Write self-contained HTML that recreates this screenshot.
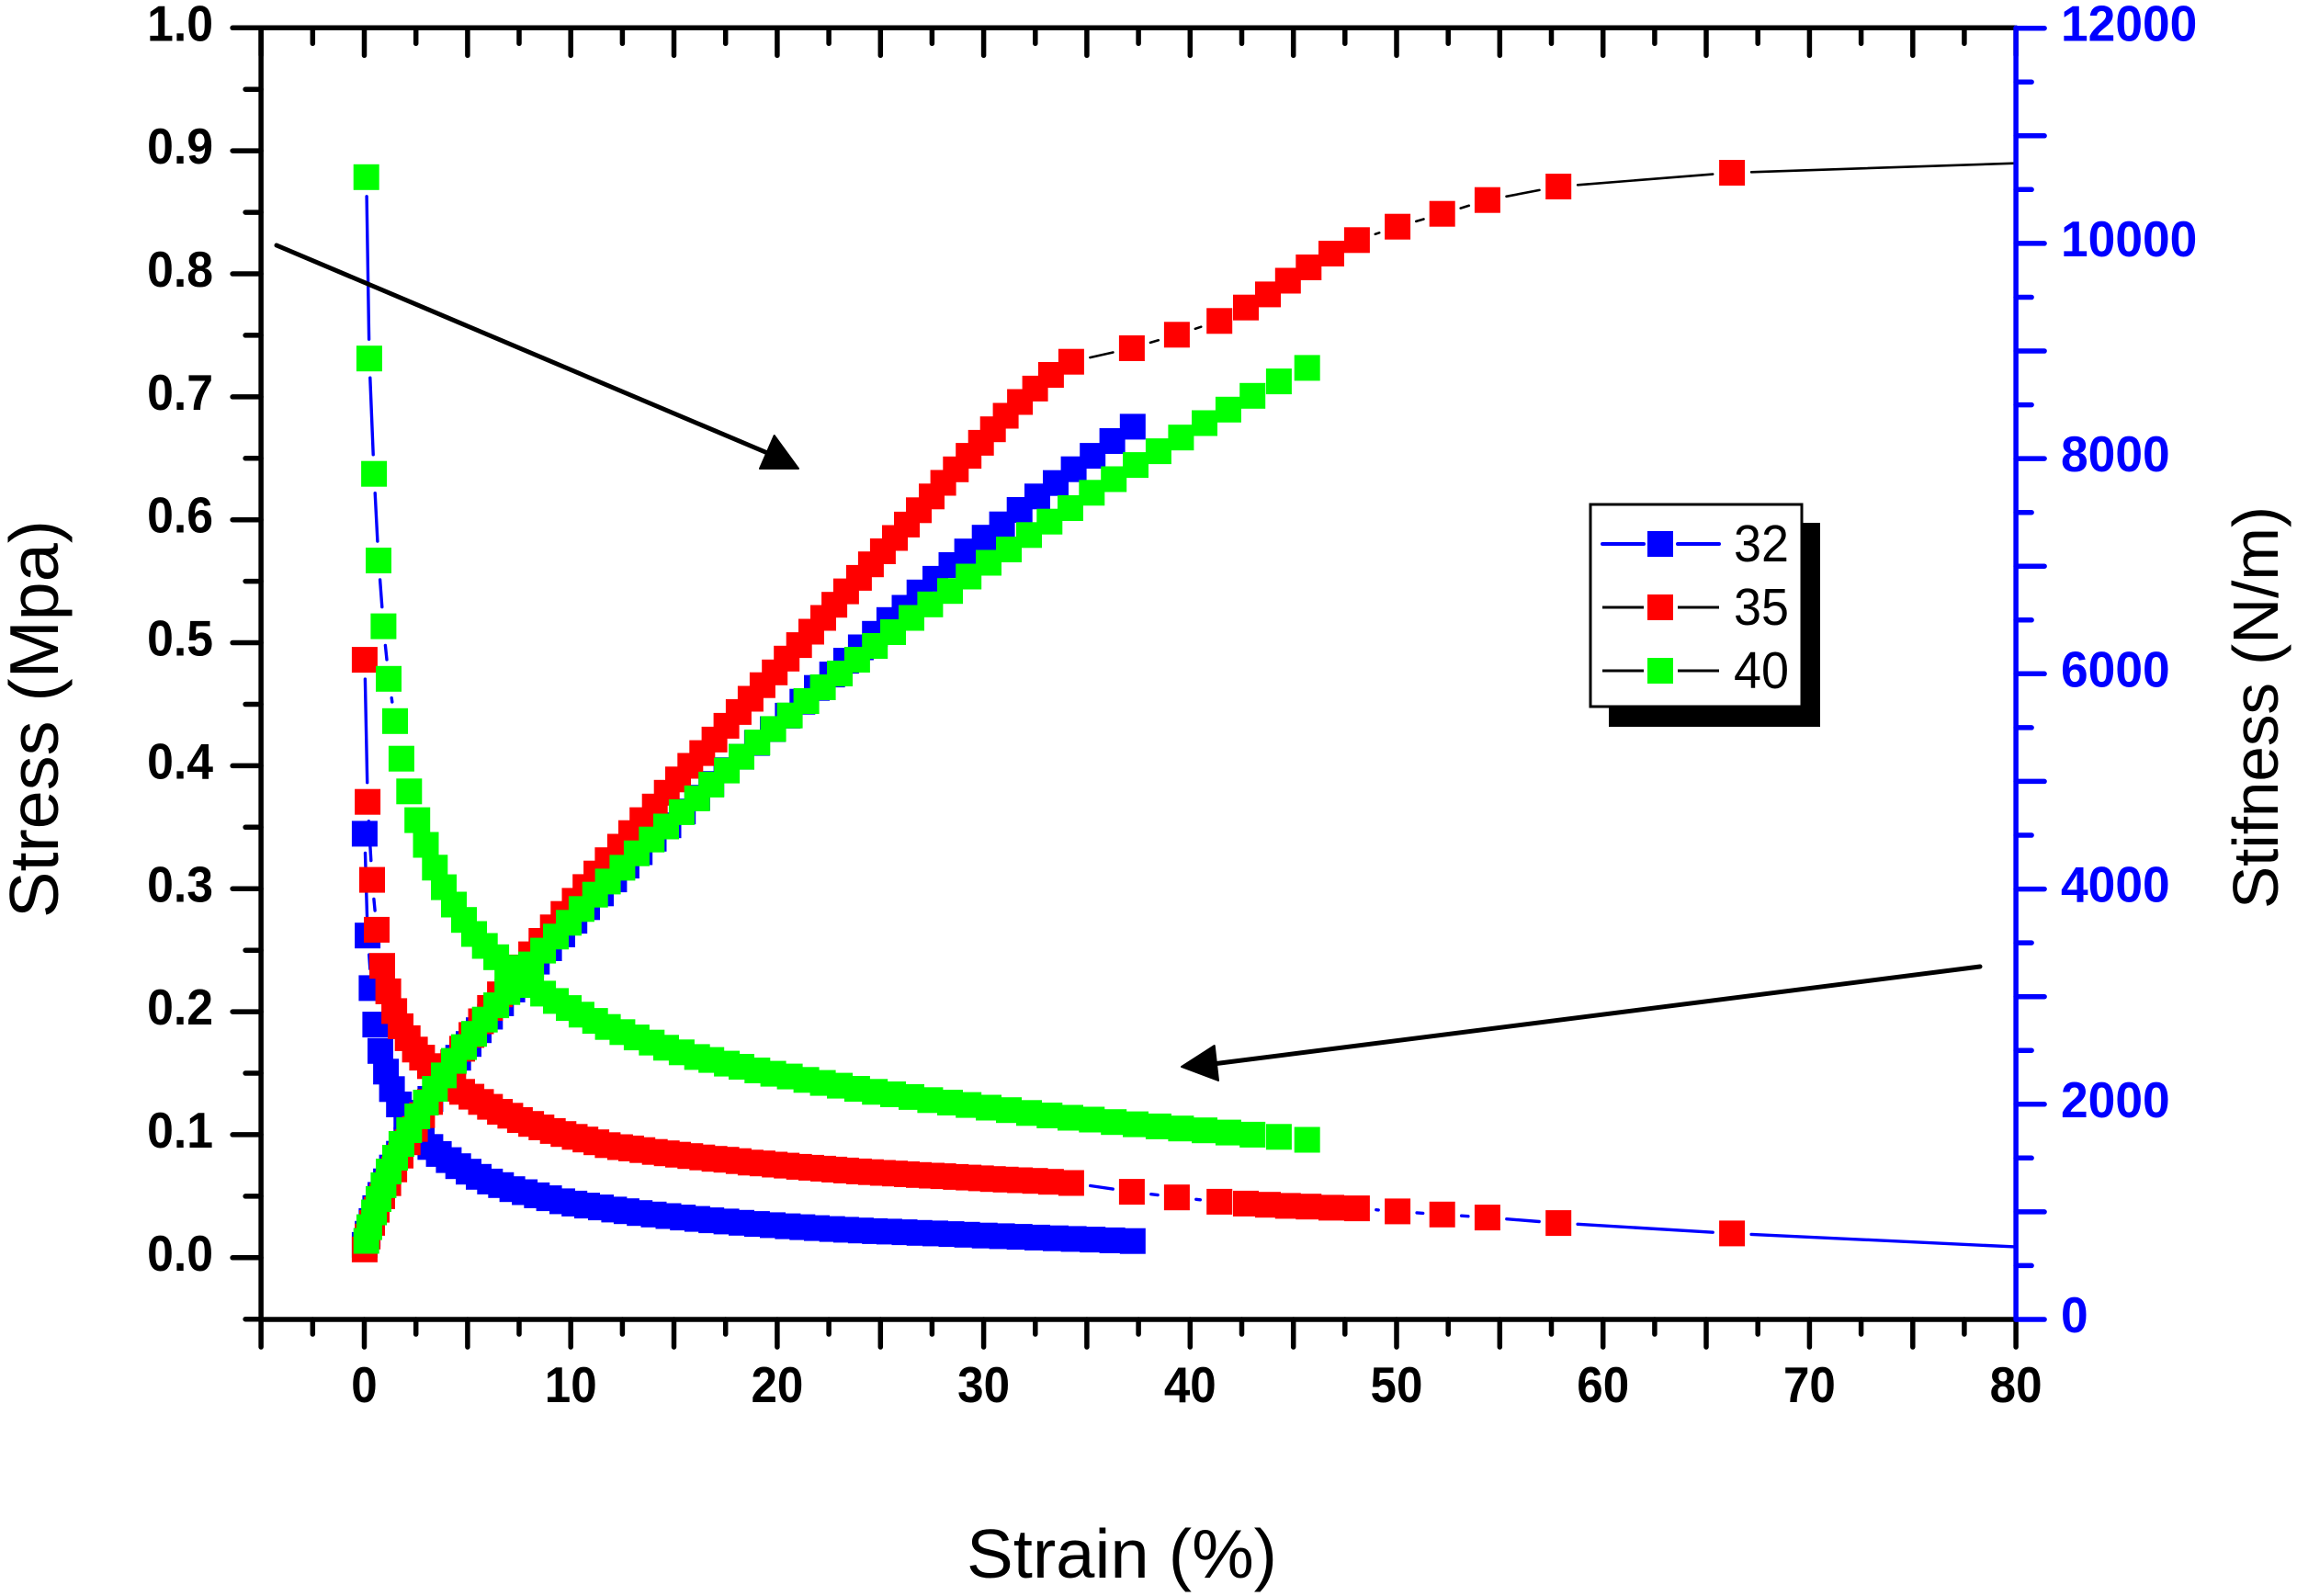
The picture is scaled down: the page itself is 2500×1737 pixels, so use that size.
<!DOCTYPE html>
<html lang="en">
<head>
<meta charset="utf-8">
<title>Stress and stiffness vs strain</title>
<style>
html,body{margin:0;padding:0;background:#fff}
svg{display:block}
text{font-family:"Liberation Sans",sans-serif}
</style>
</head>
<body>
<svg id="chart" xmlns="http://www.w3.org/2000/svg" width="2500" height="1737" viewBox="0 0 2500 1737">
<rect x="0" y="0" width="2500" height="1737" fill="#fff"/>
<defs><clipPath id="plot-clip"><rect x="284" y="0" width="1909" height="1436"/></clipPath></defs>
<g id="series-layer" clip-path="url(#plot-clip)"></g>
<g id="axis-layer"></g>
<line x1="301" y1="267" x2="840" y2="495" stroke="#000" stroke-width="5" stroke-linecap="round"/>
<polygon points="869,510 842.7,474 827,510" fill="#000" stroke="#000" stroke-width="2" stroke-linejoin="round"/>
<line x1="2155" y1="1052" x2="1320" y2="1158" stroke="#000" stroke-width="5" stroke-linecap="round"/>
<polygon points="1286,1161 1321.7,1138 1326,1176" fill="#000" stroke="#000" stroke-width="2" stroke-linejoin="round"/>
<g>
<rect x="1751" y="569" width="230" height="222" fill="#000"/>
<rect x="1731" y="549" width="230" height="220" fill="#fff" stroke="#000" stroke-width="3"/>
<g>
<line x1="1744" y1="592" x2="1789" y2="592" stroke="#00f" stroke-width="4" stroke-linecap="round"/>
<line x1="1826" y1="592" x2="1871" y2="592" stroke="#00f" stroke-width="4" stroke-linecap="round"/>
<rect x="1793" y="578" width="28" height="28" fill="#00f"/>
<text x="1887" y="611" font-size="57" textLength="60" lengthAdjust="spacingAndGlyphs">32</text>
</g>
<g>
<line x1="1744" y1="661" x2="1789" y2="661" stroke="#000" stroke-width="3"/>
<line x1="1826" y1="661" x2="1871" y2="661" stroke="#000" stroke-width="3"/>
<rect x="1793" y="647" width="28" height="28" fill="#f00"/>
<text x="1887" y="680" font-size="57" textLength="60" lengthAdjust="spacingAndGlyphs">35</text>
</g>
<g>
<line x1="1744" y1="730" x2="1789" y2="730" stroke="#000" stroke-width="3"/>
<line x1="1826" y1="730" x2="1871" y2="730" stroke="#000" stroke-width="3"/>
<rect x="1793" y="716" width="28" height="28" fill="#0f0"/>
<text x="1887" y="749" font-size="57" textLength="60" lengthAdjust="spacingAndGlyphs">40</text>
</g>
</g>
<text x="1052" y="1717" font-size="75" textLength="338" lengthAdjust="spacingAndGlyphs">Strain (%)</text>
<text transform="translate(63,999) rotate(-90)" font-size="75" textLength="433" lengthAdjust="spacingAndGlyphs">Stress (Mpa)</text>
<text transform="translate(2479,989) rotate(-90)" font-size="70" textLength="438" lengthAdjust="spacingAndGlyphs">Stifness (N/m)</text>
</svg>
<script>
const xTickLabels = ["0","10","20","30","40","50","60","70","80"];
const leftTickLabels = ["0.0","0.1","0.2","0.3","0.4","0.5","0.6","0.7","0.8","0.9","1.0"];
const rightTickLabels = ["0","2000","4000","6000","8000","10000","12000"];

const strain32 = [0.02,0.16,0.35,0.53,0.78,1.05,1.34,1.68,2.04,2.38,2.78,3.20,3.61,4.09,4.55,5.05,5.54,6.09,6.62,7.17,7.77,8.36,8.95,9.59,10.18,10.79,11.46,12.10,12.70,13.34,14.02,14.73,15.43,16.13,16.81,17.54,18.27,19.02,19.78,20.51,21.22,21.92,22.66,23.34,24.05,24.73,25.43,26.17,26.89,27.66,28.44,29.20,30.05,30.89,31.74,32.60,33.49,34.36,35.28,36.23,37.22];
const stress32 = [0.0104,0.0194,0.0298,0.0403,0.0510,0.0621,0.0733,0.0845,0.0957,0.1067,0.1179,0.1291,0.1402,0.1514,0.1626,0.1738,0.1850,0.1960,0.2069,0.2181,0.2292,0.2407,0.2516,0.2628,0.2740,0.2850,0.2962,0.3076,0.3188,0.3297,0.3407,0.3516,0.3628,0.3740,0.3852,0.3964,0.4073,0.4185,0.4297,0.4407,0.4521,0.4633,0.4742,0.4854,0.4963,0.5073,0.5185,0.5284,0.5409,0.5520,0.5632,0.5742,0.5854,0.5963,0.6080,0.6190,0.6299,0.6411,0.6520,0.6640,0.6757];
const stiffness32 = [4514,3568,3079,2740,2495,2303,2141,1998,1885,1783,1689,1603,1538,1481,1424,1373,1325,1282,1248,1211,1183,1154,1126,1098,1077,1058,1041,1021,1006,989,975,961,947,934,921,910,898,887,876,866,857,849,840,833,827,821,816,810,804,799,793,787,780,774,768,761,754,748,742,735,728];

const strain35 = [0.02,0.16,0.38,0.60,0.87,1.16,1.45,1.76,2.10,2.45,2.80,3.18,3.57,3.94,4.31,4.74,5.19,5.65,6.09,6.57,7.07,7.54,8.08,8.58,9.13,9.65,10.19,10.71,11.24,11.79,12.39,12.93,13.47,14.07,14.65,15.20,15.79,16.37,16.96,17.54,18.13,18.71,19.29,19.88,20.46,21.06,21.65,22.23,22.77,23.34,23.96,24.54,25.12,25.70,26.28,26.86,27.48,28.04,28.65,29.27,29.87,30.45,31.07,31.76,32.49,33.26,34.24,37.18,39.36,41.42,42.70,43.77,44.74,45.74,46.84,48.08,50.05,52.21,54.40,57.84,66.25,81.0];
const stress35 = [0.0067,0.0172,0.0283,0.0390,0.0500,0.0606,0.0718,0.0830,0.0938,0.1047,0.1159,0.1266,0.1373,0.1479,0.1589,0.1699,0.1811,0.1922,0.2031,0.2141,0.2251,0.2360,0.2467,0.2576,0.2686,0.2795,0.2902,0.3014,0.3124,0.3232,0.3342,0.3452,0.3558,0.3668,0.3780,0.3889,0.3999,0.4103,0.4213,0.4325,0.4437,0.4545,0.4655,0.4759,0.4871,0.4981,0.5090,0.5202,0.5309,0.5418,0.5528,0.5638,0.5744,0.5852,0.5961,0.6078,0.6190,0.6300,0.6410,0.6520,0.6626,0.6736,0.6846,0.6958,0.7067,0.7178,0.7285,0.7395,0.7505,0.7617,0.7726,0.7833,0.7944,0.8052,0.8164,0.8274,0.8383,0.8488,0.8600,0.8710,0.8822,0.8905];
const stiffness35 = [6130,4810,4085,3621,3286,3049,2866,2725,2614,2508,2433,2354,2286,2222,2164,2115,2070,2021,1976,1930,1893,1853,1817,1785,1751,1723,1697,1672,1646,1620,1601,1589,1574,1557,1544,1531,1518,1505,1493,1484,1471,1458,1450,1439,1429,1418,1410,1401,1393,1384,1376,1369,1362,1356,1349,1342,1336,1331,1324,1318,1312,1305,1300,1294,1288,1279,1268,1186,1134,1094,1077,1066,1055,1049,1038,1032,1004,975,947,896,799,665];

const strain40 = [0.10,0.24,0.47,0.69,0.93,1.18,1.49,1.80,2.17,2.57,2.98,3.42,3.85,4.34,4.83,5.32,5.84,6.39,6.93,7.50,8.08,8.66,9.28,9.90,10.52,11.18,11.80,12.50,13.19,13.92,14.62,15.37,16.12,16.81,17.56,18.27,19.04,19.81,20.61,21.41,22.21,23.03,23.87,24.73,25.61,26.50,27.41,28.37,29.27,30.24,31.22,32.20,33.19,34.20,35.24,36.30,37.36,38.47,39.56,40.70,41.85,43.02,44.30,45.67];
const stress40 = [0.0137,0.0248,0.0368,0.0477,0.0589,0.0701,0.0813,0.0925,0.1037,0.1149,0.1261,0.1373,0.1482,0.1600,0.1712,0.1820,0.1936,0.2052,0.2160,0.2268,0.2385,0.2497,0.2611,0.2723,0.2835,0.2952,0.3059,0.3171,0.3288,0.3400,0.3506,0.3623,0.3735,0.3847,0.3961,0.4073,0.4189,0.4299,0.4409,0.4526,0.4638,0.4750,0.4862,0.4974,0.5086,0.5202,0.5312,0.5421,0.5538,0.5650,0.5759,0.5876,0.5985,0.6095,0.6220,0.6330,0.6445,0.6557,0.6669,0.6786,0.6896,0.7008,0.7125,0.7235];
const stiffness40 = [10616,8930,7858,7053,6442,5953,5561,5211,4907,4640,4410,4199,4017,3855,3713,3582,3471,3366,3269,3184,3107,3028,2960,2894,2832,2774,2718,2670,2621,2573,2525,2482,2439,2411,2377,2348,2314,2283,2258,2226,2198,2172,2143,2115,2092,2067,2038,2015,1993,1968,1945,1919,1896,1874,1857,1834,1814,1794,1774,1757,1737,1717,1697,1669];

const SVG_NS = "http://www.w3.org/2000/svg";
const xPos = v => 396.5 + 22.47 * v;
const yLeft = v => 1368.8 - 1338.5 * v;
const yRight = v => 1436 - 0.11711 * v;
const seriesLayer = document.getElementById("series-layer");
const axisLayer = document.getElementById("axis-layer");
const MARKER = 28;
const GAP = 21;

function linePath(xs, ys, yFn) {
  let d = "";
  for (let i = 0; i + 1 < xs.length; i++) {
    const x0 = xPos(xs[i]), y0 = yFn(ys[i]), x1 = xPos(xs[i + 1]), y1 = yFn(ys[i + 1]);
    const len = Math.hypot(x1 - x0, y1 - y0);
    if (len <= 2 * GAP) continue;
    const ux = (x1 - x0) / len, uy = (y1 - y0) / len;
    d += "M" + (x0 + ux * GAP).toFixed(1) + " " + (y0 + uy * GAP).toFixed(1) +
         "L" + (x1 - ux * GAP).toFixed(1) + " " + (y1 - uy * GAP).toFixed(1);
  }
  return d;
}

function drawLine(xs, ys, yFn, color, width, name) {
  const p = document.createElementNS(SVG_NS, "path");
  p.setAttribute("d", linePath(xs, ys, yFn));
  p.setAttribute("fill", "none");
  p.setAttribute("stroke", color);
  p.setAttribute("stroke-width", width);
  p.setAttribute("stroke-linecap", "round");
  
  
  seriesLayer.appendChild(p);
}

function drawMarkers(xs, ys, yFn, color, name) {
  const g = document.createElementNS(SVG_NS, "g");
  
  
  for (let i = 0; i < xs.length; i++) {
    const r = document.createElementNS(SVG_NS, "rect");
    r.setAttribute("x", (xPos(xs[i]) - MARKER / 2).toFixed(1));
    r.setAttribute("y", (yFn(ys[i]) - MARKER / 2).toFixed(1));
    r.setAttribute("width", MARKER);
    r.setAttribute("height", MARKER);
    r.setAttribute("fill", color);
    
    
    g.appendChild(r);
  }
  seriesLayer.appendChild(g);
}

drawLine(strain32, stress32, yLeft, "#000", 2.6, "stress-line-32");
drawLine(strain35, stress35, yLeft, "#000", 2.6, "stress-line-35");
drawLine(strain40, stress40, yLeft, "#000", 2.6, "stress-line-40");
drawLine(strain32, stiffness32, yRight, "#00f", 3.4, "stiffness-line-32");
drawLine(strain35, stiffness35, yRight, "#00f", 3.4, "stiffness-line-35");
drawLine(strain40, stiffness40, yRight, "#00f", 3.4, "stiffness-line-40");
drawMarkers(strain32, stress32, yLeft, "#00f", "stress-markers-32");
drawMarkers(strain32, stiffness32, yRight, "#00f", "stiffness-markers-32");
drawMarkers(strain35, stress35, yLeft, "#f00", "stress-markers-35");
drawMarkers(strain35, stiffness35, yRight, "#f00", "stiffness-markers-35");
drawMarkers(strain40, stress40, yLeft, "#0f0", "stress-markers-40");
drawMarkers(strain40, stiffness40, yRight, "#0f0", "stiffness-markers-40");

function axisLine(x1, y1, x2, y2, color, name) {
  const l = document.createElementNS(SVG_NS, "line");
  l.setAttribute("x1", x1.toFixed(1));
  l.setAttribute("y1", y1.toFixed(1));
  l.setAttribute("x2", x2.toFixed(1));
  l.setAttribute("y2", y2.toFixed(1));
  l.setAttribute("stroke", color);
  l.setAttribute("stroke-width", 5.5);
  l.setAttribute("stroke-linecap", "round");
  
  
  axisLayer.appendChild(l);
}

function axisLabel(x, y, str, anchor, color, squeeze, name) {
  const t = document.createElementNS(SVG_NS, "text");
  t.setAttribute("x", x.toFixed(1));
  t.setAttribute("y", y.toFixed(1));
  t.setAttribute("font-size", 55);
  t.setAttribute("font-weight", "bold");
  t.setAttribute("text-anchor", anchor);
  t.setAttribute("fill", color);
  let natural = 0;
  for (const ch of str) natural += ch === "." ? 0.278 : 0.556;
  t.setAttribute("textLength", (natural * 55 * squeeze).toFixed(1));
  t.setAttribute("lengthAdjust", "spacingAndGlyphs");
  
  
  t.textContent = str;
  axisLayer.appendChild(t);
}

const TOP = yLeft(1), BOTTOM = 1436, LEFT = xPos(-5), RIGHT = xPos(80);

for (let i = 0; i <= 34; i++) {
  const v = -5 + i * 2.5;
  const major = i % 2 === 0;
  axisLine(xPos(v), TOP, xPos(v), TOP + (major ? 30 : 17), "#000", "top-x-tick");
  axisLine(xPos(v), BOTTOM, xPos(v), BOTTOM + (major ? 30 : 16), "#000", "bottom-x-tick");
}
for (let i = 0; i <= 21; i++) {
  const v = -0.05 + i * 0.05;
  const major = i % 2 === 1;
  axisLine(LEFT, yLeft(v), LEFT - (major ? 31 : 17), yLeft(v), "#000", "left-y-tick");
}
axisLine(LEFT, TOP, RIGHT, TOP, "#000", "top-axis-line");
axisLine(LEFT, BOTTOM, RIGHT, BOTTOM, "#000", "x-axis-line");
axisLine(LEFT, TOP, LEFT, BOTTOM, "#000", "left-y-axis-line");

for (let i = 0; i <= 24; i++) {
  const v = i * 500;
  const major = i % 2 === 0;
  axisLine(RIGHT, yRight(v), RIGHT + (major ? 31 : 17), yRight(v), "#00f", "right-y-tick");
}
axisLine(RIGHT, TOP, RIGHT, BOTTOM, "#00f", "right-y-axis-line");

xTickLabels.forEach(s => axisLabel(xPos(+s), 1526, s, "middle", "#000", 0.93, "x-tick-label"));
leftTickLabels.forEach(s => axisLabel(232, yLeft(+s) + 14, s, "end", "#000", 0.94, "left-y-tick-label"));
rightTickLabels.forEach(s => axisLabel(2243, yRight(+s) + 14, s, "start", "#00f", 0.97, "right-y-tick-label"));
</script>
</body>
</html>
